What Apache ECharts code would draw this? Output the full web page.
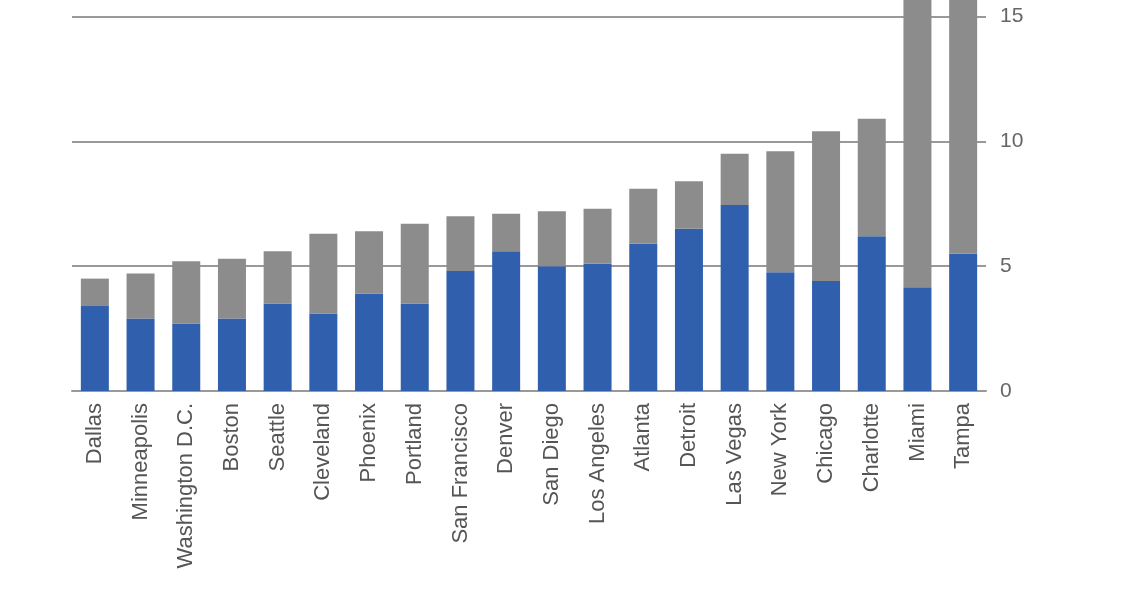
<!DOCTYPE html>
<html><head><meta charset="utf-8">
<script src="https://cdn.jsdelivr.net/npm/echarts@6/dist/echarts.min.js"></script>
<style>html,body{margin:0;padding:0;background:#fff;overflow:hidden;width:1128px;height:591px}#c{position:absolute;left:0;top:-119px;width:1128px;height:710px}</style>
</head><body><div id="c"></div>
<script>
const categories = ["Dallas","Minneapolis","Washington D.C.","Boston","Seattle","Cleveland","Phoenix","Portland","San Francisco","Denver","San Diego","Los Angeles","Atlanta","Detroit","Las Vegas","New York","Chicago","Charlotte","Miami","Tampa"];
const blueValues = [3.4,2.9,2.7,2.9,3.5,3.1,3.9,3.5,4.8,5.6,5.0,5.1,5.9,6.5,7.45,4.75,4.4,6.2,4.15,5.5];
const grayValues = [1.1,1.8,2.5,2.4,2.1,3.2,2.5,3.2,2.2,1.5,2.2,2.2,2.2,1.9,2.05,4.85,6.0,4.7,14,12];
const yTicks = {min:0, max:20, interval:5};
const chart = echarts.init(document.getElementById('c'));
chart.setOption({
  animation:false,
  grid:{left:72,right:142,top:0,bottom:200,containLabel:false},
  xAxis:{type:'category',data:categories,axisTick:{show:false},
    axisLine:{show:true,lineStyle:{color:'#999',width:2}},
    axisLabel:{rotate:90,interval:0,color:'#555',fontSize:22,fontFamily:'Arial, Liberation Sans',margin:12}},
  yAxis:{type:'value',position:'right',min:yTicks.min,max:yTicks.max,interval:yTicks.interval,
    axisLine:{show:false},axisTick:{show:false},
    splitLine:{lineStyle:{color:'#999',width:2}},
    axisLabel:{color:'#666',fontSize:21,fontFamily:'Arial, Liberation Sans',margin:14}},
  series:[
    {type:'bar',stack:'s',data:blueValues,barWidth:28,itemStyle:{color:'#2f5fad'}},
    {type:'bar',stack:'s',data:grayValues,barWidth:28,itemStyle:{color:'#8c8c8c'}}
  ]
});
</script></body></html>
